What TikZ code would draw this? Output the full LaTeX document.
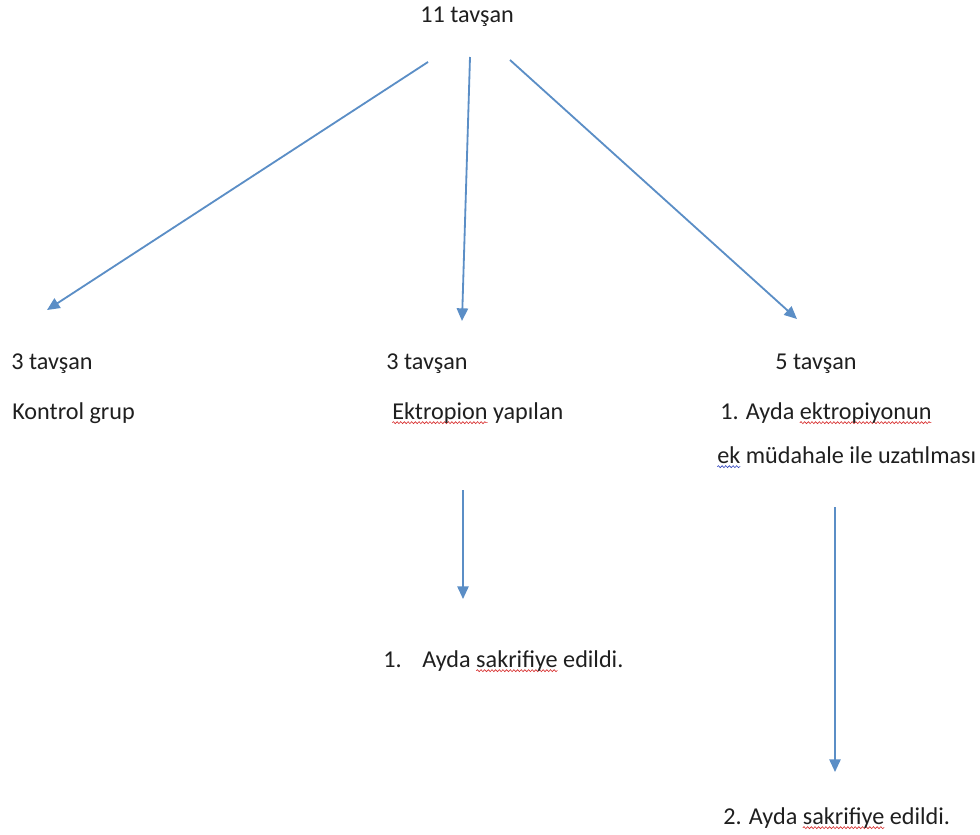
\documentclass[tikz,border=0pt]{standalone}
\usepackage{fontspec}
\setmainfont{Carlito}
\usetikzlibrary{arrows.meta}
\usetikzlibrary{decorations.pathmorphing}
\definecolor{ablue}{RGB}{91,142,198}
\definecolor{wred}{RGB}{215,45,45}
\definecolor{wblue}{RGB}{50,70,190}
\newsavebox{\wavybox}
\newcommand{\wavy}[2]{\sbox{\wavybox}{#2}%
  \rlap{\tikz[overlay, baseline=0pt, x=1cm, y=1cm]
    \draw [#1, line width=0.45pt,
           decoration={snake, segment length=2.6pt, amplitude=0.7pt},
           decorate] (0pt, -2.6pt) -- (\wd\wavybox, -2.6pt);}%
  \usebox{\wavybox}}
\tikzset{arr/.style = {draw=ablue, line width=1.3pt,
                       -{Triangle[length=9pt, width=8pt]}}}
\tikzset{lbl/.style = {anchor=base west, inner sep=0, text=black!88,
                       font=\fontsize{17.2}{20}\selectfont}}

\begin{document}
\begin{tikzpicture}[x=0.025cm, y=-0.025cm]
    \useasboundingbox (0, 0) rectangle (980, 835);

    \node [lbl] (top) at (420, 23) {11 tavşan};

    \node [lbl] (ctrl) at (11, 369) {3 tavşan};
    \node [lbl] (ctrltxt) at (12, 419) {Kontrol grup};

    \node [lbl] (ekt) at (386, 369) {3 tavşan};
    \node [lbl] (ekttxt) at (392, 419) {\wavy{wred}{Ektropion} yapılan};
    \node [lbl] (ektend) at (383, 667)
      {\makebox[0.975cm][l]{1.}Ayda \wavy{wred}{sakrifiye} edildi.};

    \node [lbl] (uzt) at (775, 369) {5 tavşan};
    \node [lbl] (uzttxt) at (720, 419) {1. Ayda \wavy{wred}{ektropiyonun}};
    \node [lbl] (uzttxtb) at (717, 463) {\wavy{wblue}{ek} müdahale ile uzatılması};
    \node [lbl] (uztend) at (723, 824) {2. Ayda \wavy{wred}{sakrifiye} edildi.};

    % arrow ends
    \coordinate (topl) at (428, 62);
    \coordinate (topm) at (470, 57);
    \coordinate (topr) at (510, 60);
    \coordinate (ctrlin) at (47, 310);
    \coordinate (ektin) at (462, 321);
    \coordinate (uztin) at (797, 319);
    \coordinate (ektout) at (463, 490);
    \coordinate (ektendin) at (463, 599);
    \coordinate (uztout) at (835, 507);
    \coordinate (uztendin) at (835, 772);

    \draw [arr] (topl) -- (ctrlin);
    \draw [arr] (topm) -- (ektin);
    \draw [arr] (topr) -- (uztin);
    \draw [arr] (ektout) -- (ektendin);
    \draw [arr] (uztout) -- (uztendin);
  \end{tikzpicture}
\end{document}
